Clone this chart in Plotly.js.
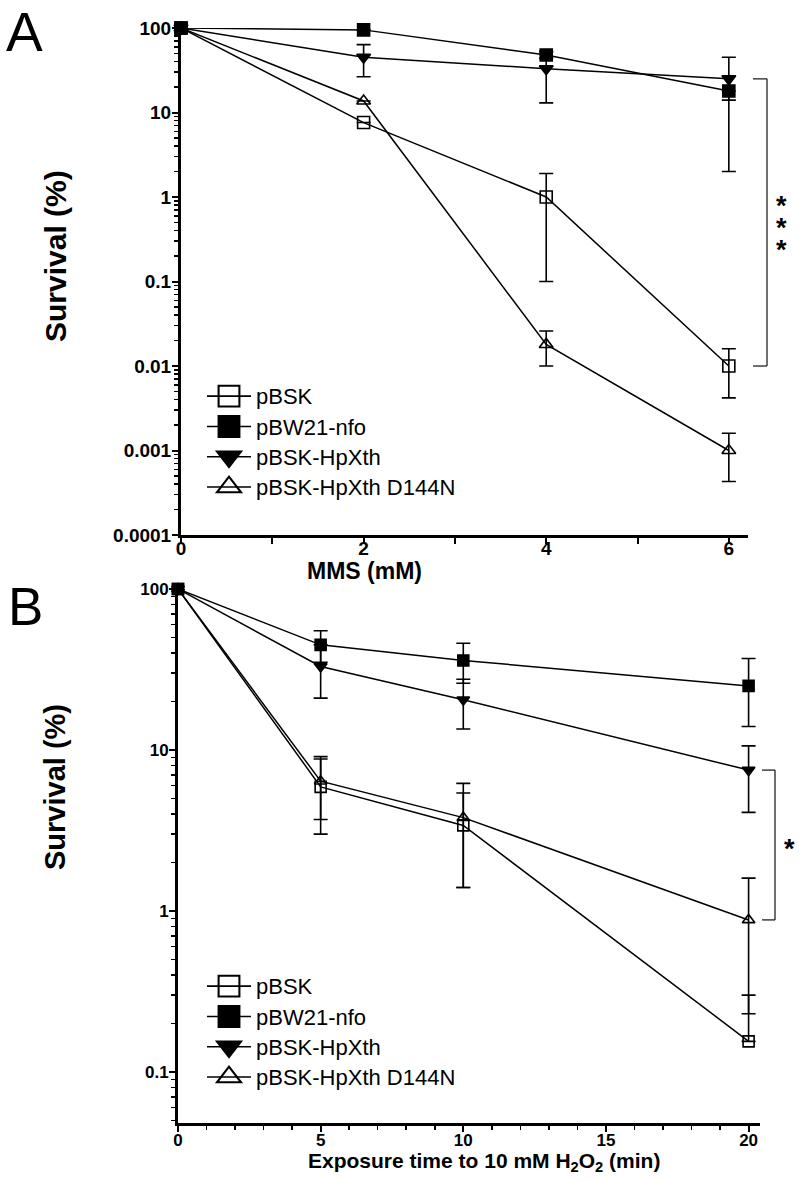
<!DOCTYPE html>
<html><head><meta charset="utf-8">
<script src="https://cdn.plot.ly/plotly-3.0.1.min.js"></script>
<style>html,body{margin:0;padding:0;background:#fff;} #chart{width:800px;height:1181px;}</style>
</head><body><div id="chart"></div>
<script>
// ---------- DATA ----------
const seriesNames = ['pBSK', 'pBW21-nfo', 'pBSK-HpXth', 'pBSK-HpXth D144N'];

// Panel A: MMS dose (mM)
const mmsDose = [0, 2, 4, 6];
const mmsPBSK = [100, 7.6, 1.0, 0.01];
const mmsPBSKErrPlus = [0, 0, 0.9, 0.006];
const mmsPBSKErrMinus = [0, 0, 0.9, 0.0058];
const mmsNfo = [100, 95, 48, 18];
const mmsNfoErrPlus = [0, 0, 4, 0];
const mmsNfoErrMinus = [0, 0, 4, 16];
const mmsHpXth = [100, 45, 33, 25];
const mmsHpXthErrPlus = [0, 18.5, 20, 20];
const mmsHpXthErrMinus = [0, 18.5, 20, 11];
const mmsD144N = [100, 13.7, 0.018, 0.001];
const mmsD144NErrPlus = [0, 0, 0.008, 0.0006];
const mmsD144NErrMinus = [0, 0, 0.008, 0.00057];

// Panel B: exposure time to 10 mM H2O2 (min)
const h2o2Time = [0, 5, 10, 20];
const h2o2PBSK = [100, 5.9, 3.4, 0.155];
const h2o2PBSKErrPlus = [0, 2.9, 2.0, 0.145];
const h2o2PBSKErrMinus = [0, 2.9, 2.0, 0];
const h2o2Nfo = [100, 45, 36, 25];
const h2o2NfoErrPlus = [0, 10, 10, 12];
const h2o2NfoErrMinus = [0, 10, 10, 11];
const h2o2HpXth = [100, 33, 20.5, 7.5];
const h2o2HpXthErrPlus = [0, 12, 7, 3.1];
const h2o2HpXthErrMinus = [0, 12, 7, 3.4];
const h2o2D144N = [100, 6.4, 3.8, 0.88];
const h2o2D144NErrPlus = [0, 2.7, 2.4, 0.72];
const h2o2D144NErrMinus = [0, 2.7, 2.4, 0.65];

const yTickVals = [100, 10, 1, 0.1, 0.01, 0.001, 0.0001];
const yTickText = ['100', '10', '1', '0.1', '0.01', '0.001', '0.0001'];
const xTitleA = 'MMS (mM)';
const xTitleB = 'Exposure time to 10 mM H<sub>2</sub>O<sub>2</sub> (min)';
const yTitle = 'Survival (%)';

// ---------- STYLE ----------
const FONT = 'Liberation Sans, Arial, Helvetica, sans-serif';
const symbols = ['square-open', 'square', 'triangle-down', 'triangle-up-open'];
const drawOrder = [3, 0, 2, 1]; // filled square drawn last (on top)

function minorLogTicks(lo, hi) {
  const out = [];
  for (let e = lo; e < hi; e++) for (let m = 2; m <= 9; m++) out.push(m * Math.pow(10, e));
  return out;
}

function makeTraces(x, ys, plus, minus, xa, ya, msize) {
  return drawOrder.map(i => ({
    x: x, y: ys[i], type: 'scatter', mode: 'lines+markers',
    name: seriesNames[i], showlegend: false,
    xaxis: xa, yaxis: ya, cliponaxis: false,
    line: {color: '#000', width: 1.5},
    marker: {symbol: symbols[i], size: msize, color: '#000', line: {color: '#000', width: 1.6}},
    error_y: {type: 'data', symmetric: false, array: plus[i], arrayminus: minus[i],
              color: '#000', thickness: 1.6, width: 7}
  }));
}

// legend-only entries (no points drawn) so the legend keys can use larger symbols
function makeLegendKeys(xa, ya, legendId, textPx) {
  return seriesNames.map((nm, i) => ({
    x: [null], y: [null], type: 'scatter', mode: 'lines+markers',
    name: '<span style="font-size:' + textPx + 'px">' + nm + '</span>',
    legend: legendId, legendrank: i + 1, legendgroup: legendId + i,
    xaxis: xa, yaxis: ya, hoverinfo: 'skip',
    line: {color: '#000', width: 1.6},
    marker: {symbol: symbols[i], size: 16, color: '#000', line: {color: '#000', width: 1.6}}
  }));
}

const traces = [].concat(
  makeTraces(mmsDose, [mmsPBSK, mmsNfo, mmsHpXth, mmsD144N],
    [mmsPBSKErrPlus, mmsNfoErrPlus, mmsHpXthErrPlus, mmsD144NErrPlus],
    [mmsPBSKErrMinus, mmsNfoErrMinus, mmsHpXthErrMinus, mmsD144NErrMinus],
    'x', 'y', 12),
  makeTraces(h2o2Time, [h2o2PBSK, h2o2Nfo, h2o2HpXth, h2o2D144N],
    [h2o2PBSKErrPlus, h2o2NfoErrPlus, h2o2HpXthErrPlus, h2o2D144NErrPlus],
    [h2o2PBSKErrMinus, h2o2NfoErrMinus, h2o2HpXthErrMinus, h2o2D144NErrMinus],
    'x2', 'y2', 11),
  makeLegendKeys('x', 'y', 'legend', 22),
  makeLegendKeys('x2', 'y2', 'legend2', 22)
);

const W = 800, H = 1181;
const px = v => v / W;
const py = v => 1 - v / H;

const axisCommon = {
  showline: true, linecolor: '#000', linewidth: 3, mirror: false,
  ticks: 'outside', tickcolor: '#000', tickwidth: 2, ticklen: 6,
  showgrid: false, zeroline: false
};

function note(text, x, y, size, extra) {
  return Object.assign({text: text, xref: 'paper', yref: 'paper', x: x, y: y,
    xanchor: 'center', yanchor: 'middle', showarrow: false,
    font: {family: FONT, size: size, weight: 'bold', color: '#000'}}, extra || {});
}

const starMidA = (Math.log10(mmsHpXth[3]) + Math.log10(mmsPBSK[3])) / 2;
const starMidB = (Math.log10(h2o2HpXth[3]) + Math.log10(h2o2D144N[3])) / 2;
const bigStar = '<span style="font-size:27px">*</span>';

const layout = {
  width: W, height: H, margin: {l: 0, r: 0, t: 0, b: 0},
  paper_bgcolor: '#fff', plot_bgcolor: '#fff',
  font: {family: FONT, color: '#000'},
  showlegend: true,
  xaxis: Object.assign({}, axisCommon, {
    domain: [px(181), px(748)], range: [0, 6.21], anchor: 'y',
    tickmode: 'linear', tick0: 0, dtick: 2, ticklabelstandoff: -12,
    minor: {dtick: 1, ticks: 'outside', ticklen: 6, tickwidth: 2, tickcolor: '#000'},
    tickfont: {family: FONT, size: 19, weight: 'bold'}
  }),
  yaxis: Object.assign({}, axisCommon, {
    type: 'log', domain: [py(535), py(28)], range: [-4, 2], anchor: 'x',
    tickmode: 'array', tickvals: yTickVals, ticktext: yTickText, ticklabelstandoff: -3,
    minor: {tickmode: 'array', tickvals: minorLogTicks(-4, 2), ticks: 'outside', ticklen: 4, tickwidth: 1.5, tickcolor: '#000'},
    tickfont: {family: FONT, size: 19, weight: 'bold'}
  }),
  xaxis2: Object.assign({}, axisCommon, {
    domain: [px(178), px(760)], range: [0, 20.4], anchor: 'y2',
    tickmode: 'linear', tick0: 0, dtick: 5, ticklabelstandoff: -6,
    minor: {dtick: 1, ticks: 'outside', ticklen: 4, tickwidth: 1.5, tickcolor: '#000'},
    tickfont: {family: FONT, size: 17, weight: 'bold'}
  }),
  yaxis2: Object.assign({}, axisCommon, {
    type: 'log', domain: [py(1123), py(589)], range: [-1.317, 2], anchor: 'x2',
    tickmode: 'array', tickvals: yTickVals.slice(0, 4), ticktext: yTickText.slice(0, 4), ticklabelstandoff: -3,
    minor: {tickmode: 'array', tickvals: minorLogTicks(-2, 2), ticks: 'outside', ticklen: 4, tickwidth: 1.5, tickcolor: '#000'},
    tickfont: {family: FONT, size: 17, weight: 'bold'}
  }),
  legend: {x: px(202), y: py(376), xanchor: 'left', yanchor: 'top', bgcolor: 'rgba(0,0,0,0)',
           font: {family: FONT, size: 21, color: '#000'}, itemwidth: 44, tracegroupgap: 0, itemsizing: 'trace'},
  legend2: {x: px(202), y: py(966), xanchor: 'left', yanchor: 'top', bgcolor: 'rgba(0,0,0,0)',
           font: {family: FONT, size: 21, color: '#000'}, itemwidth: 44, tracegroupgap: 0, itemsizing: 'trace'},
  shapes: [
    // panel A bracket: pBSK-HpXth vs pBSK at 6 mM
    {type: 'line', xref: 'paper', yref: 'y', x0: px(753), x1: px(767), y0: mmsHpXth[3], y1: mmsHpXth[3], line: {color: '#222', width: 1.3}},
    {type: 'line', xref: 'paper', yref: 'y', x0: px(767), x1: px(767), y0: mmsHpXth[3], y1: mmsPBSK[3], line: {color: '#222', width: 1.3}},
    {type: 'line', xref: 'paper', yref: 'y', x0: px(753), x1: px(767), y0: mmsPBSK[3], y1: mmsPBSK[3], line: {color: '#222', width: 1.3}},
    // panel B bracket: pBSK-HpXth vs D144N at 20 min
    {type: 'line', xref: 'paper', yref: 'y2', x0: px(762), x1: px(775), y0: h2o2HpXth[3], y1: h2o2HpXth[3], line: {color: '#222', width: 1.3}},
    {type: 'line', xref: 'paper', yref: 'y2', x0: px(775), x1: px(775), y0: h2o2HpXth[3], y1: h2o2D144N[3], line: {color: '#222', width: 1.3}},
    {type: 'line', xref: 'paper', yref: 'y2', x0: px(762), x1: px(775), y0: h2o2D144N[3], y1: h2o2D144N[3], line: {color: '#222', width: 1.3}}
  ],
  annotations: [
    note('A', px(5), 1, 55, {xanchor: 'left', yanchor: 'top', borderpad: 0, font: {family: FONT, size: 55, color: '#000'}}),
    note('B', px(6), py(606), 53, {xanchor: 'left', font: {family: FONT, size: 53, color: '#000'}}),
    note(yTitle, px(55), py(256), 30, {textangle: -90}),
    note(xTitleA, px(364), py(571), 23),
    note(yTitle, px(55), py(787), 29, {textangle: -90}),
    note(xTitleB, px(484), py(1162), 21),
    note(bigStar + '<br>' + bigStar + '<br>' + bigStar, px(781), starMidA, 17, {yref: 'y', yshift: -6}),
    note(bigStar, px(789), starMidB, 17, {yref: 'y2', yshift: -4})
  ]
};

Plotly.newPlot('chart', traces, layout, {displayModeBar: false, staticPlot: true}).then(() => {
  // enlarge legend key symbols (Plotly caps them at 16px)
  document.querySelectorAll('.legendpoints path.scatterpts').forEach(p => {
    const t = p.getAttribute('transform') || '';
    p.setAttribute('transform', t + ' scale(1.3)');
  });
});
</script>
</body></html>
